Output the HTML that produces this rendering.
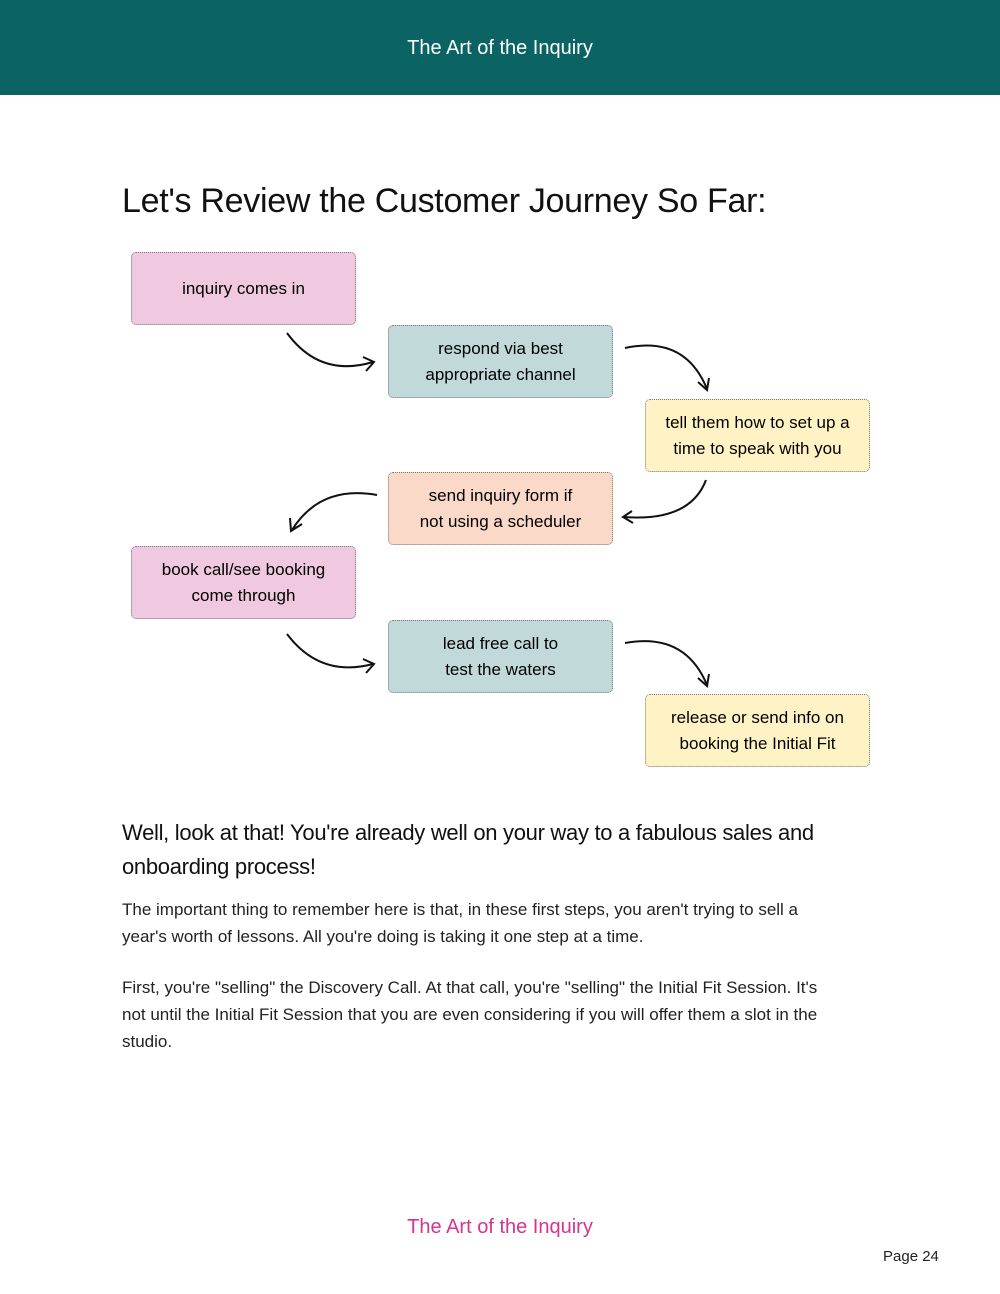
<!DOCTYPE html>
<html><head><style>
*{margin:0;padding:0;box-sizing:border-box}
body{width:1000px;height:1294px;background:#fff;position:relative;font-family:"Liberation Sans",sans-serif;color:#111;overflow:hidden}
.hdr{position:absolute;left:0;top:0;width:1000px;height:95px;background:#0b6363;color:#fff;text-align:center;font-size:20px;line-height:96px}
h1{position:absolute;left:122px;top:182px;font-size:34px;font-weight:normal;letter-spacing:-0.3px;color:#111}
.b{position:absolute;width:225px;height:73px;border:1.5px dotted #777;border-radius:5px;display:flex;align-items:center;justify-content:center;text-align:center;font-size:17px;line-height:26px;color:#000}
.p{background:#f0c8e0}.g{background:#c2d9d9}.y{background:#fff2c4}.o{background:#fbd9c8}
h2{position:absolute;left:122px;top:816px;width:780px;font-size:22px;line-height:34px;font-weight:normal;letter-spacing:-0.3px}
.t{position:absolute;left:122px;width:722px;font-size:17px;line-height:27px;color:#222}
.ft{position:absolute;left:0;width:1000px;top:1216px;text-align:center;color:#d6338f;font-size:20px}
.pg{position:absolute;left:883px;top:1248px;font-size:15px;color:#222}
</style></head><body>
<div class="hdr">The Art of the Inquiry</div>
<h1>Let's Review the Customer Journey So Far:</h1>
<div class="b p" style="left:131px;top:252px">inquiry comes in</div>
<div class="b g" style="left:388px;top:325px">respond via best<br>appropriate channel</div>
<div class="b y" style="left:645px;top:399px">tell them how to set up a<br>time to speak with you</div>
<div class="b o" style="left:388px;top:472px">send inquiry form if<br>not using a scheduler</div>
<div class="b p" style="left:131px;top:546px">book call/see booking<br>come through</div>
<div class="b g" style="left:388px;top:620px">lead free call to<br>test the waters</div>
<div class="b y" style="left:645px;top:694px">release or send info on<br>booking the Initial Fit</div>
<svg width="1000" height="1294" style="position:absolute;left:0;top:0" fill="none" stroke="#111" stroke-width="2">
<path d="M287 333 Q320 378 373 362"/><path d="M363 357 L374 362 L366 371"/>
<path d="M625 348 Q685 335 707 389"/><path d="M698 382 L707 390 L709 378"/>
<path d="M706 480 Q690 522 624 517"/><path d="M632 511 L623 517 L633 523"/>
<path d="M377 495 Q320 485 292 530"/><path d="M290 518 L291 531 L302 524"/>
<path d="M287 634 Q320 678 373 664"/><path d="M363 659 L374 664 L366 673"/>
<path d="M625 643 Q685 632 707 685"/><path d="M698 678 L707 686 L709 674"/>
</svg>
<h2>Well, look at that! You're already well on your way to a fabulous sales and onboarding process!</h2>
<div class="t" style="top:896px">The important thing to remember here is that, in these first steps, you aren't trying to sell a year's worth of lessons. All you're doing is taking it one step at a time.</div>
<div class="t" style="top:974px">First, you're "selling" the Discovery Call. At that call, you're "selling" the Initial Fit Session. It's not until the Initial Fit Session that you are even considering if you will offer them a slot in the studio.</div>
<div class="ft">The Art of the Inquiry</div>
<div class="pg">Page 24</div>
</body></html>
